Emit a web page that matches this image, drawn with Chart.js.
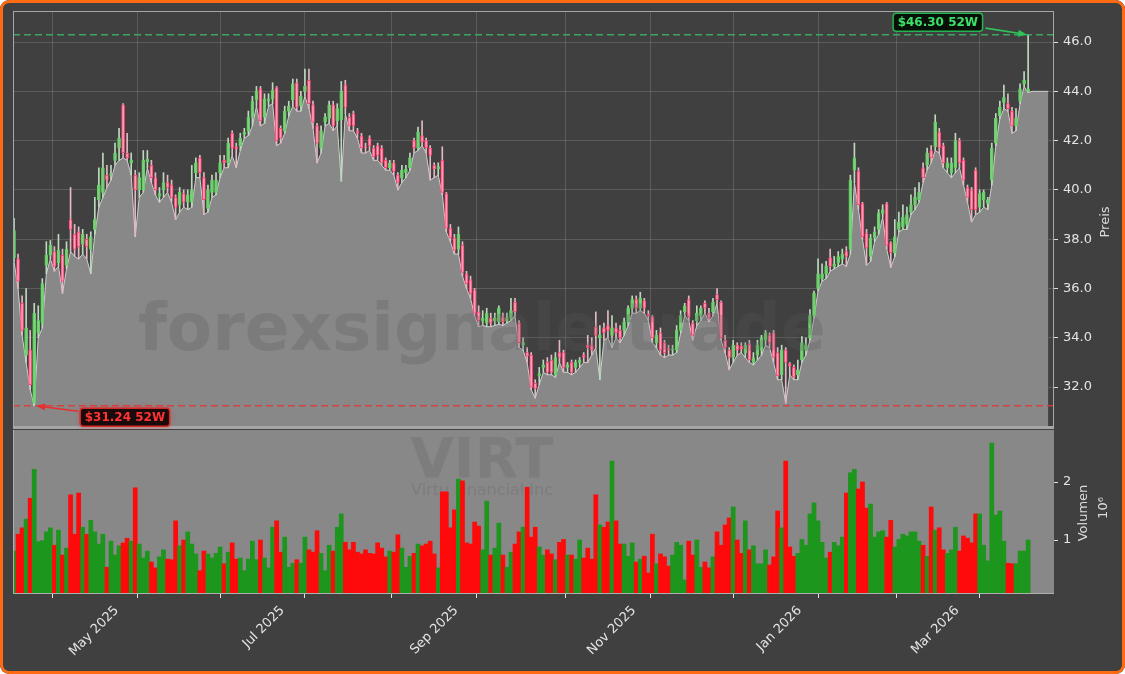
<!DOCTYPE html>
<html>
<head>
<meta charset="utf-8">
<script src="https://cdn.jsdelivr.net/npm/chart.js@4.4.1/dist/chart.umd.min.js"></script>
<style>
  html, body { margin: 0; padding: 0; background: #ffffff; }
  #wrap { position: relative; width: 1125px; height: 674px; background: #404040; overflow: hidden; border-radius: 9px; }
  #priceBox { position: absolute; left: 0; top: 0; width: 1125px; height: 430px; }
  #volBox { position: absolute; left: 0; top: 430px; width: 1125px; height: 244px; }
  #frame { position: absolute; left: 0; top: 0; width: 1125px; height: 674px; box-sizing: border-box;
           border: 3px solid #ff6a13; border-radius: 9px; pointer-events: none; }
</style>
</head>
<body>
<div id="wrap">
  <div id="priceBox"><canvas id="price"></canvas></div>
  <div id="volBox"><canvas id="vol"></canvas></div>
  <div id="frame"></div>
</div>
<script>
// VIRT daily candles, Apr 2 2025 .. Apr 2026 (one entry per trading day)
const opens = [37.25,37.2,35.4,33.3,33.5,31.35,34.2,34.6,36.95,37.35,
  37.5,37.05,37.35,36.95,38.8,38.2,38.3,37.8,38.0,37.6,
  38.4,39.6,39.9,40.6,40.6,41.2,41.7,43.45,41.5,41.1,
  40.6,40.0,40.0,41.15,41.0,40.5,39.75,40.0,40.3,40.2,
  39.7,39.4,39.85,39.5,39.5,40.7,41.3,40.5,39.25,39.9,
  39.9,40.7,41.2,41.1,42.3,41.75,41.8,42.25,42.4,42.95,
  43.65,44.1,42.95,43.6,43.7,44.15,42.5,42.4,43.2,43.65,
  44.35,43.4,44.0,44.45,43.45,42.6,41.7,42.75,42.9,43.45,
  42.8,42.85,44.25,42.95,43.1,42.4,42.2,41.75,42.1,41.7,
  41.8,41.7,41.2,40.9,41.1,40.6,40.5,40.7,40.9,42.0,
  41.7,42.2,42.0,41.7,41.0,40.85,41.2,39.85,38.45,38.05,
  37.6,37.75,36.6,36.35,35.95,35.05,34.7,34.6,34.8,34.7,
  34.65,34.85,34.7,34.8,35.45,34.6,33.7,33.4,33.3,32.15,
  32.45,32.8,33.0,33.1,32.5,33.4,33.4,32.8,33.0,32.8,
  33.0,33.3,33.7,33.7,34.45,34.0,34.4,34.5,34.1,34.4,
  34.3,34.3,34.65,35.2,35.55,35.2,35.5,34.95,34.85,33.8,
  34.2,33.8,33.55,33.5,33.5,34.3,35.05,35.55,34.6,34.7,
  34.9,35.4,35.0,35.05,35.75,35.45,33.9,33.5,33.2,33.7,
  33.65,33.4,33.75,33.0,33.3,33.5,33.9,34.1,34.2,33.4,
  32.5,33.5,32.95,32.8,32.5,33.1,33.5,34.0,34.9,36.0,
  36.4,36.6,37.25,36.9,37.05,37.2,37.5,37.6,40.8,40.75,
  39.45,38.25,37.3,38.05,38.4,39.05,39.45,37.85,37.45,38.4,
  38.5,38.6,39.1,39.4,39.6,40.9,41.0,41.6,41.75,42.35,
  41.8,40.9,40.7,40.9,42.0,41.2,40.1,40.0,40.8,39.3,
  39.6,39.45,40.4,41.9,43.0,43.55,43.5,43.2,42.6,43.6,
  44.3,44.0];
const highs = [38.85,37.4,35.7,36.0,34.3,35.4,35.3,36.4,37.9,37.95,
  37.7,38.2,37.6,37.9,40.1,38.6,38.5,38.4,38.2,38.3,
  39.7,40.9,41.5,41.0,41.0,41.9,42.5,43.5,42.3,41.5,
  40.8,40.7,41.6,41.6,41.2,40.7,40.1,40.7,40.6,40.4,
  39.8,40.1,40.0,40.0,41.0,41.3,41.4,40.7,40.2,40.6,
  40.7,41.4,41.4,42.1,42.4,41.9,42.3,42.5,43.2,43.8,
  44.2,44.2,43.9,43.9,44.35,44.2,42.6,43.4,43.6,44.5,
  44.5,44.0,44.9,44.9,43.6,42.7,42.6,43.1,43.6,43.6,
  43.5,44.4,44.45,43.1,43.2,42.5,42.3,41.9,42.2,41.8,
  41.9,41.8,41.3,41.2,41.2,40.7,41.0,41.0,41.5,42.1,
  42.55,42.8,42.1,41.8,41.1,41.1,41.75,39.9,38.6,38.2,
  38.5,37.9,36.7,36.5,36.0,35.3,35.1,35.2,35.0,35.0,
  35.3,35.0,35.0,35.6,35.6,34.7,34.0,33.6,33.4,32.3,
  32.8,33.1,33.2,33.3,33.4,33.9,33.5,33.0,33.1,33.1,
  33.2,33.4,34.1,34.0,35.05,34.5,34.6,35.1,34.9,34.6,
  34.5,34.8,35.3,35.7,35.7,35.85,35.6,35.1,34.9,34.3,
  34.4,33.9,33.7,33.7,34.5,35.1,35.4,35.7,34.7,35.3,
  35.3,35.5,35.2,35.6,36.0,35.5,34.1,33.6,33.9,33.8,
  33.8,33.8,33.9,33.4,33.9,34.1,34.3,34.2,34.3,33.6,
  33.7,33.6,33.0,32.9,33.1,34.05,34.0,35.15,35.9,37.2,
  37.0,37.1,37.6,37.3,37.5,37.6,37.7,40.6,41.9,40.9,
  39.5,38.4,38.2,38.5,39.2,39.4,39.5,37.9,38.8,39.1,
  39.4,39.3,39.8,40.1,40.3,41.1,41.7,41.8,43.05,42.5,
  41.9,41.3,41.3,42.3,42.1,41.3,40.2,40.1,40.9,40.0,
  40.0,39.7,41.9,43.1,43.6,44.25,43.9,43.35,43.3,44.3,
  44.8,46.3];
const lows = [37.1,36.0,34.1,33.0,31.9,31.24,34.0,34.4,36.6,37.2,
  36.7,36.9,35.8,36.8,37.5,37.3,37.2,37.4,37.2,36.6,
  38.2,39.3,39.7,40.1,40.4,41.0,41.2,41.3,41.2,40.6,
  38.1,39.7,39.9,40.9,40.3,39.8,39.5,39.7,39.9,39.5,
  38.8,39.1,39.3,39.2,39.3,40.5,40.5,39.0,39.1,39.7,
  39.8,40.5,40.9,40.9,41.4,40.9,41.6,42.1,42.2,42.6,
  43.4,42.6,42.7,43.4,43.5,41.8,41.9,42.3,43.0,43.4,
  43.2,43.2,43.8,43.3,42.5,41.1,41.5,42.6,42.7,42.4,
  42.6,40.35,43.1,42.4,42.4,42.1,41.5,41.5,41.6,41.2,
  41.2,41.0,40.8,40.8,40.6,40.0,40.3,40.5,40.8,41.5,
  41.6,41.8,41.5,40.4,40.5,40.6,39.8,38.3,37.9,37.4,
  37.4,36.5,36.0,35.6,34.9,34.45,34.5,34.45,34.45,34.5,
  34.55,34.5,34.6,34.7,34.9,33.6,33.5,33.0,31.9,31.55,
  32.1,32.6,32.5,32.5,32.4,33.0,32.6,32.6,32.5,32.6,
  32.8,33.0,33.0,33.3,33.6,32.3,33.9,34.0,33.6,34.0,
  33.8,34.1,34.5,35.0,35.0,35.1,35.0,34.7,33.8,33.6,
  33.3,33.2,33.3,33.3,33.4,34.2,34.9,34.7,33.9,34.5,
  34.7,35.0,34.65,34.9,35.4,33.9,33.4,32.7,33.0,33.3,
  33.4,33.2,33.0,32.9,33.1,33.3,33.7,33.6,33.0,32.3,
  32.3,31.35,32.5,32.3,32.3,33.0,33.3,33.9,34.8,35.9,
  36.3,36.4,36.7,36.8,36.9,37.0,36.9,37.4,40.3,39.2,
  38.0,36.95,37.1,37.9,38.2,38.9,37.6,36.85,37.3,38.3,
  38.4,38.4,39.0,39.2,39.5,40.3,40.8,41.1,41.6,41.5,
  40.9,40.7,40.5,40.7,40.9,40.2,39.5,38.7,39.0,39.1,
  39.3,39.2,40.2,41.8,42.9,43.3,43.2,42.3,42.4,43.5,
  44.2,43.95];
const closes = [38.35,36.3,34.3,34.4,32.1,35.0,34.7,36.2,37.35,37.75,
  36.9,37.55,36.3,37.6,38.4,37.6,37.7,38.2,37.7,38.1,
  38.8,40.2,40.9,40.4,40.65,41.5,42.1,41.5,41.3,41.2,
  40.0,40.5,41.2,41.25,40.5,40.0,39.85,40.3,40.1,39.7,
  39.3,39.9,39.5,39.8,40.0,41.1,40.7,39.6,40.0,40.4,
  40.4,41.1,41.1,41.9,41.7,41.65,42.1,42.35,42.95,43.6,
  44.0,42.8,43.7,43.7,44.05,42.0,42.1,43.2,43.4,44.3,
  43.35,43.8,44.2,43.5,42.75,41.9,42.4,42.95,43.45,42.6,
  43.3,44.0,43.35,42.6,42.6,42.3,41.7,41.7,41.8,41.35,
  41.4,41.1,40.9,41.1,40.75,40.3,40.8,40.85,41.3,41.7,
  42.35,41.95,41.7,41.4,40.85,40.95,39.9,38.45,38.05,37.55,
  38.2,36.65,36.2,35.8,35.0,34.7,34.8,35.0,34.6,34.8,
  35.2,34.65,34.8,35.1,35.05,33.8,33.8,33.25,32.0,31.95,
  32.55,32.9,32.6,32.6,33.2,33.2,32.8,32.9,32.6,33.0,
  33.1,33.2,33.6,33.5,34.1,34.1,34.2,34.3,34.4,34.2,
  34.0,34.65,35.2,35.55,35.2,35.6,35.2,34.9,34.0,34.1,
  33.5,33.4,33.5,33.55,34.3,34.9,35.3,34.85,34.1,35.0,
  35.2,35.2,34.8,35.45,35.55,34.0,33.6,33.2,33.7,33.5,
  33.55,33.7,33.1,33.2,33.7,34.0,34.2,33.8,33.2,32.45,
  33.5,33.0,32.85,32.4,32.7,33.8,33.7,34.9,35.8,36.6,
  36.6,36.9,36.9,37.0,37.3,37.4,37.3,40.4,41.3,39.4,
  38.1,37.65,38.05,38.3,39.05,39.2,37.75,37.45,38.1,38.7,
  38.9,39.0,39.4,39.7,39.9,40.5,41.5,41.3,42.75,41.7,
  41.1,41.1,41.1,42.0,41.1,40.4,39.7,39.2,39.2,39.85,
  39.9,39.6,41.7,42.9,43.35,43.75,43.3,42.6,42.9,44.1,
  44.45,44.1];
// volume in millions of shares
const volumes = [0.81,1.10,1.21,1.36,1.72,2.22,0.97,0.99,1.14,1.21,
  0.91,1.17,0.74,0.86,1.78,1.10,1.81,1.22,1.10,1.34,
  1.14,0.93,1.10,0.53,0.98,0.74,0.90,0.95,1.03,0.98,
  1.90,0.93,0.69,0.81,0.62,0.52,0.71,0.83,0.67,0.66,
  1.33,0.90,1.00,1.14,0.93,0.76,0.47,0.81,0.76,0.69,
  0.77,0.88,0.59,0.79,0.95,0.67,0.69,0.47,0.67,0.98,
  0.66,1.00,0.69,0.52,1.22,1.33,0.79,1.05,0.53,0.60,
  0.66,0.60,1.05,0.83,0.79,1.16,0.77,0.47,0.91,0.81,
  1.22,1.45,0.96,0.83,0.96,0.79,0.76,0.83,0.77,0.76,
  0.95,0.86,0.71,0.81,0.79,1.09,0.86,0.53,0.72,0.77,
  0.93,0.90,0.93,0.98,0.76,0.52,1.83,1.83,1.21,1.52,
  2.05,2.02,0.95,0.93,1.31,1.24,0.83,1.67,0.74,0.86,
  1.29,0.74,0.53,0.79,0.93,1.14,1.22,1.91,1.05,1.22,
  0.88,0.74,0.83,0.76,0.66,0.96,1.01,0.74,0.74,0.67,
  1.00,0.69,0.86,0.67,1.78,1.26,1.22,1.31,2.36,1.33,
  0.93,0.93,0.72,0.95,0.62,0.67,0.72,0.43,1.10,0.59,
  0.76,0.71,0.55,0.74,0.96,0.91,0.31,0.98,0.74,1.00,
  0.53,0.62,0.52,0.71,1.14,0.91,1.26,1.38,1.57,1.00,
  0.77,1.33,0.83,0.90,0.59,0.59,0.83,0.57,0.71,1.50,
  1.21,2.36,0.88,0.72,0.77,1.01,0.91,1.45,1.64,1.33,
  0.96,0.69,0.79,0.96,0.90,1.05,1.81,2.16,2.22,1.88,
  2.00,1.55,1.62,1.05,1.14,1.16,1.05,1.34,0.88,1.01,
  1.10,1.07,1.14,1.14,0.98,0.91,0.72,1.57,1.17,1.21,
  0.83,0.77,0.83,1.22,0.81,1.07,1.03,0.95,1.45,1.45,
  0.91,0.64,2.67,1.43,1.50,0.98,0.60,0.59,0.59,0.81,
  0.81,1.00];
// flat area after the last candle
const tailFill = [44.0, 44.0, 44.0, 44.0, 44.0];

const monthStarts = [20, 41, 61, 83, 104, 125, 148, 167, 189, 209, 228, 250];
const monthLabels = ['May 2025', '', 'Jul 2025', '', 'Sep 2025', '', 'Nov 2025', '', 'Jan 2026', '', 'Mar 2026', ''];
const priceTicks = [32, 34, 36, 38, 40, 42, 44, 46];
const volTicks = [1, 2];
const high52 = [251, 46.30];
const low52 = [5, 31.24];

const X_MIN = -0.25, X_MAX = 257.4;
const TXT = '#e4e4e4';
const GRID = 'rgba(255,255,255,0.14)';
const FONT = '"DejaVu Sans", sans-serif';

Chart.defaults.font.family = FONT;
Chart.defaults.font.size = 13;
Chart.defaults.color = TXT;
Chart.defaults.animation = false;

const idx = closes.map((_, i) => i);
const isUp = i => closes[i] >= opens[i];

// keep the plot box exactly where the layout padding puts it
function fixWidth(w) {
  return s => { s.width = w; s.paddingTop = 0; s.paddingBottom = 0; };
}
function fixHeight(h) {
  return s => { s.height = h; s.paddingLeft = 0; s.paddingRight = 0; };
}

function arrow(ctx, x1, y1, x2, y2, color) {
  const a = Math.atan2(y2 - y1, x2 - x1);
  ctx.save();
  ctx.strokeStyle = color;
  ctx.fillStyle = color;
  ctx.lineWidth = 1.6;
  ctx.beginPath();
  ctx.moveTo(x1, y1);
  ctx.lineTo(x2 - 7 * Math.cos(a), y2 - 7 * Math.sin(a));
  ctx.stroke();
  ctx.beginPath();
  ctx.moveTo(x2, y2);
  ctx.lineTo(x2 - 9 * Math.cos(a) + 3.5 * Math.sin(a), y2 - 9 * Math.sin(a) - 3.5 * Math.cos(a));
  ctx.lineTo(x2 - 9 * Math.cos(a) - 3.5 * Math.sin(a), y2 - 9 * Math.sin(a) + 3.5 * Math.cos(a));
  ctx.closePath();
  ctx.fill();
  ctx.restore();
}

function tag(ctx, x, y, text, fg, edge, bg, glow) {
  ctx.save();
  ctx.font = 'bold 12px ' + FONT;
  const w = ctx.measureText(text).width + 9, h = 18;
  ctx.beginPath();
  ctx.roundRect(x, y, w, h, 3);
  if (glow) { ctx.shadowColor = glow; ctx.shadowBlur = 5; }
  ctx.fillStyle = bg;
  ctx.fill();
  ctx.shadowBlur = 0;
  ctx.lineWidth = 1.5;
  ctx.strokeStyle = edge;
  ctx.stroke();
  ctx.fillStyle = fg;
  ctx.textAlign = 'center';
  ctx.textBaseline = 'middle';
  ctx.fillText(text, x + w / 2, y + h / 2 + 0.5);
  ctx.restore();
  return w;
}

function vTitle(ctx, text, x, y) {
  ctx.save();
  ctx.translate(x, y);
  ctx.rotate(-Math.PI / 2);
  ctx.font = '13px ' + FONT;
  ctx.fillStyle = '#dcdcdc';
  ctx.textAlign = 'center';
  ctx.textBaseline = 'middle';
  ctx.fillText(text, 0, 0);
  ctx.restore();
}

const pricePlugin = {
  id: 'priceDecor',
  afterDatasetsDraw(chart) {
    const { ctx, chartArea: a, scales: { x, y } } = chart;
    ctx.save();
    // watermark
    ctx.font = 'bold 66px ' + FONT;
    ctx.fillStyle = 'rgba(88,88,88,0.26)';
    ctx.textAlign = 'center';
    ctx.textBaseline = 'alphabetic';
    ctx.fillText('forexsignale.trade', 482, 350);

    // 52 week lines
    const yHi = y.getPixelForValue(high52[1]);
    const yLo = y.getPixelForValue(low52[1]);
    ctx.lineWidth = 1.5;
    ctx.setLineDash([7, 4]);
    ctx.strokeStyle = 'rgba(60,185,100,0.85)';
    ctx.beginPath(); ctx.moveTo(a.left, yHi); ctx.lineTo(a.right, yHi); ctx.stroke();
    ctx.strokeStyle = 'rgba(225,55,55,0.85)';
    ctx.beginPath(); ctx.moveTo(a.left, yLo); ctx.lineTo(a.right, yLo); ctx.stroke();
    ctx.setLineDash([]);

    // frame
    ctx.strokeStyle = '#a6a6a6';
    ctx.lineWidth = 1;
    ctx.strokeRect(a.left + 0.5, a.top + 0.5, a.right - a.left - 1, a.bottom - a.top);
    ctx.lineWidth = 2;
    ctx.beginPath(); ctx.moveTo(a.left, a.bottom - 1); ctx.lineTo(a.right, a.bottom - 1); ctx.stroke();
    ctx.restore();

    // annotations
    const hx = x.getPixelForValue(high52[0]);
    const bx = hx - 135, by = yHi - 21.5;
    const w = tag(ctx, bx, by, '$' + high52[1].toFixed(2) + ' 52W', '#3ee06a', '#27b34f', '#061006');
    arrow(ctx, bx + w + 3, by + 15, hx - 1, yHi, '#2fc35a');

    const lx = x.getPixelForValue(low52[0]);
    const lbx = lx + 46, lby = yLo + 2.5;
    tag(ctx, lbx, lby, '$' + low52[1].toFixed(2) + ' 52W', '#ff3434', '#d42a2a', '#1a0a0a', 'rgba(255,40,40,0.6)');
    arrow(ctx, lbx - 2, lby + 3, lx + 2, yLo, '#e63030');
  },
  afterDraw(chart) {
    vTitle(chart.ctx, 'Preis', 1106, 222);
  }
};

new Chart(document.getElementById('price'), {
  type: 'bar',
  data: {
    datasets: [
      {
        type: 'line',
        data: lows.concat(tailFill).map((v, i) => ({ x: i, y: v })),
        fill: 'start',
        backgroundColor: '#888888',
        borderColor: '#cfcfcf',
        borderWidth: 1,
        pointRadius: 0,
        tension: 0,
        order: 3
      },
      {
        data: idx.map(i => ({ x: i, y: [lows[i], highs[i]] })),
        backgroundColor: idx.map(i => isUp(i) ? '#bcd9bc' : '#e2b9c3'),
        barThickness: 1,
        grouped: false,
        order: 2
      },
      {
        data: idx.map(i => ({ x: i, y: [opens[i], closes[i]] })),
        backgroundColor: idx.map(i => isUp(i) ? 'rgba(140,195,140,0.55)' : 'rgba(255,180,198,0.75)'),
        borderColor: idx.map(i => isUp(i) ? '#5fd35f' : '#ff4373'),
        borderWidth: 1,
        borderSkipped: false,
        barThickness: 3,
        minBarLength: 1,
        grouped: false,
        order: 1
      }
    ]
  },
  options: {
    responsive: true,
    maintainAspectRatio: false,
    devicePixelRatio: 1,
    layout: { padding: { left: 13, top: 11, right: 0, bottom: 2 } },
    plugins: { legend: { display: false }, tooltip: { enabled: false } },
    scales: {
      x: {
        type: 'linear',
        min: X_MIN,
        max: X_MAX,
        offset: false,
        afterBuildTicks: s => { s.ticks = monthStarts.map(v => ({ value: v })); },
        afterFit: fixHeight(0),
        ticks: { display: false },
        grid: { color: GRID, drawTicks: false },
        border: { display: false }
      },
      y: {
        position: 'right',
        min: 30.34,
        max: 47.26,
        afterBuildTicks: s => { s.ticks = priceTicks.map(v => ({ value: v })); },
        afterFit: fixWidth(71),
        ticks: { color: TXT, padding: 5, callback: v => v.toFixed(1) },
        grid: { color: GRID, tickColor: '#dddddd', tickLength: 4 },
        border: { display: false }
      }
    }
  },
  plugins: [pricePlugin]
});

const volPlugin = {
  id: 'volDecor',
  beforeDraw(chart) {
    const { ctx, chartArea: a } = chart;
    ctx.save();
    ctx.fillStyle = '#888888';
    ctx.fillRect(a.left, a.top, a.right - a.left, a.bottom - a.top);
    ctx.restore();
  },
  beforeDatasetsDraw(chart) {
    const ctx = chart.ctx;
    ctx.save();
    ctx.fillStyle = 'rgba(100,100,100,0.3)';
    ctx.textAlign = 'center';
    ctx.textBaseline = 'alphabetic';
    ctx.font = 'bold 56px ' + FONT;
    ctx.fillText('VIRT', 482, 47);
    ctx.font = '16px ' + FONT;
    ctx.fillText('Virtu Financial Inc', 482, 65);
    ctx.restore();
  },
  afterDraw(chart) {
    const { ctx, chartArea: a } = chart;
    ctx.save();
    ctx.strokeStyle = '#b0b0b0';
    ctx.lineWidth = 1;
    ctx.beginPath();
    ctx.moveTo(a.left + 0.5, a.top);
    ctx.lineTo(a.left + 0.5, a.bottom - 0.5);
    ctx.lineTo(a.right, a.bottom - 0.5);
    ctx.stroke();
    ctx.restore();
    vTitle(ctx, 'Volumen', 1084, 83);
    vTitle(ctx, '10\u2076', 1104, 78);
  }
};

new Chart(document.getElementById('vol'), {
  type: 'bar',
  data: {
    datasets: [{
      data: idx.map(i => ({ x: i, y: volumes[i] })),
      backgroundColor: idx.map(i => isUp(i) ? '#1c961c' : '#ff0a0a'),
      borderWidth: 0,
      barPercentage: 1,
      categoryPercentage: 1
    }]
  },
  options: {
    responsive: true,
    maintainAspectRatio: false,
    devicePixelRatio: 1,
    layout: { padding: { left: 13, top: 0, right: 0, bottom: 0 } },
    plugins: { legend: { display: false }, tooltip: { enabled: false } },
    scales: {
      x: {
        type: 'linear',
        min: X_MIN,
        max: X_MAX,
        offset: false,
        afterBuildTicks: s => { s.ticks = monthStarts.map(v => ({ value: v })); },
        afterFit: fixHeight(80),
        ticks: {
          autoSkip: false,
          minRotation: 45,
          maxRotation: 45,
          labelOffset: 22,
          padding: 5,
          color: TXT,
          callback: (v, i) => monthLabels[i]
        },
        grid: { drawOnChartArea: false, tickColor: '#e0e0e0', tickLength: 4 },
        border: { display: false }
      },
      y: {
        position: 'right',
        min: 0.069,
        max: 2.897,
        afterBuildTicks: s => { s.ticks = volTicks.map(v => ({ value: v })); },
        afterFit: fixWidth(71),
        ticks: { color: TXT, padding: 5, callback: v => String(v) },
        grid: { drawOnChartArea: false, tickColor: '#e0e0e0', tickLength: 4 },
        border: { display: false }
      }
    }
  },
  plugins: [volPlugin]
});
</script>
</body>
</html>
